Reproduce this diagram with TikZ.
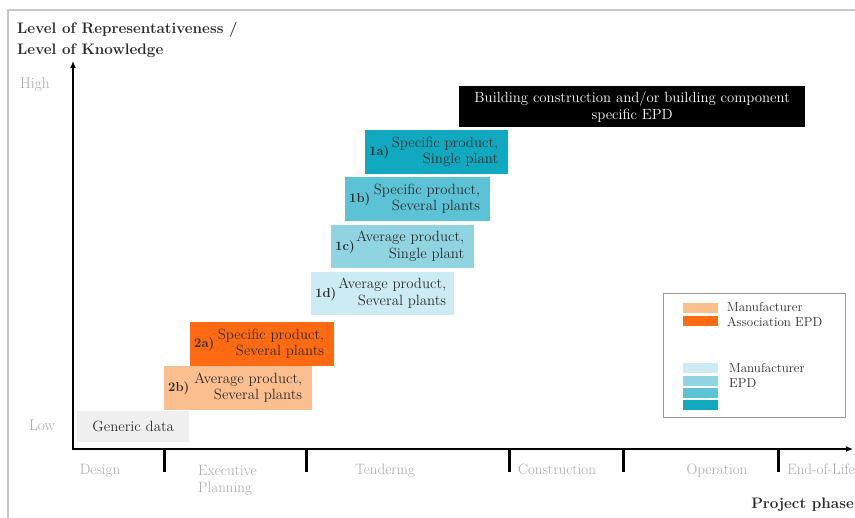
\documentclass[tikz,border=0pt]{standalone}
\usepackage{tikz}
\usetikzlibrary{arrows.meta,positioning}
\definecolor{Ink}{HTML}{2B2B2B}
\definecolor{Phase}{HTML}{A8A8A8}
\definecolor{Frame}{HTML}{C8C8C8}
\definecolor{TealA}{HTML}{10A9BF}
\definecolor{TealB}{HTML}{5CC3D6}
\definecolor{TealC}{HTML}{90D4E2}
\definecolor{TealD}{HTML}{CDEBF2}
\definecolor{OrangeA}{HTML}{FF6A12}
\definecolor{OrangeB}{HTML}{FBBE8E}
\definecolor{Paper}{HTML}{EFEFEF}
\newcommand{\boxfont}{\fontsize{14.8}{16.5}\selectfont}
\newcommand{\tagfont}{\fontsize{13}{16}\selectfont\bfseries}
\tikzset{
 epd/.style={anchor=north west,inner sep=0pt,text=Ink,font=\boxfont,align=left},
 phase/.style={text=Phase,font=\fontsize{15}{17}\selectfont,inner sep=0pt},
 level/.style={text=Phase,font=\fontsize{15.5}{17}\selectfont,inner sep=0pt},
 heading/.style={text=Ink,font=\fontsize{15.2}{21}\selectfont\bfseries,inner sep=0pt,align=left},
 axis/.style={{Latex[length=7pt,width=6pt]}-{Latex[length=7pt,width=6pt]},line width=2pt,draw=black},
 tick/.style={line width=3pt,draw=black},
 swatch/.style={minimum width=35pt,minimum height=10pt,inner sep=0pt,anchor=north west},
 legtext/.style={text=Ink,font=\fontsize{13}{15.5}\selectfont,inner sep=0pt,align=left,anchor=north west}
}

\begin{document}
\begin{tikzpicture}[x=1pt,y=-1pt]
\useasboundingbox (0,0) rectangle (855,518);
\draw[Frame,line width=1.5pt] (8,518) -- (8,10) -- (855,10);
% axes
\coordinate (origin) at (73,449);
\coordinate (ytip) at (73,61);
\coordinate (xtip) at (853,449);
\draw[axis] (ytip) -- (origin) -- (xtip);
\foreach \x in {164,306,509,623,778} \draw[tick] (\x,449) -- (\x,472);
\node[heading,anchor=north west] (ylab) at (17,21.5) {Level of Representativeness /\\Level of Knowledge};
\node[level] (high) at (35,85) {High};
\node[level] (low) at (42,425) {Low};
\node[heading,anchor=base east] (xlab) at (854,509) {Project phase};
% phases
\node[phase,anchor=base] (design) at (100,475) {Design};
\node[phase,anchor=north west,align=left] (exec) at (198,465) {Executive\\Planning};
\node[phase,anchor=base] (tender) at (385,475) {Tendering};
\node[phase,anchor=base] (constr) at (557,475) {Construction};
\node[phase,anchor=base] (oper) at (717,475) {Operation};
\node[phase,anchor=base east] (eol) at (855,475) {End-of-Life};
% data quality boxes
\node[epd,anchor=north west,fill=black,text=white,align=center,minimum width=346pt,minimum height=41pt] (building) at (459,86) {Building construction and/or building component\\specific EPD};
\node[epd,fill=TealA,minimum width=143pt,minimum height=44pt] (b1a) at (365,130) {\hbox to 135pt{{\tagfont 1a)}\hfil\begin{tabular}{@{}r@{}}Specific product,\\Single plant\end{tabular}\hspace*{6pt}}};
\node[epd,fill=TealB,minimum width=145pt,minimum height=44pt] (b1b) at (345,177) {\hbox to 137pt{{\tagfont 1b)}\hfil\begin{tabular}{@{}r@{}}Specific product,\\Several plants\end{tabular}\hspace*{6pt}}};
\node[epd,fill=TealC,minimum width=143pt,minimum height=43pt] (b1c) at (331,225) {\hbox to 135pt{{\tagfont 1c)}\hfil\begin{tabular}{@{}r@{}}Average product,\\Single plant\end{tabular}\hspace*{6pt}}};
\node[epd,fill=TealD,minimum width=143pt,minimum height=43pt] (b1d) at (311,272) {\hbox to 135pt{{\tagfont 1d)}\hfil\begin{tabular}{@{}r@{}}Average product,\\Several plants\end{tabular}\hspace*{4pt}}};
\node[epd,fill=OrangeA,minimum width=144pt,minimum height=44pt] (b2a) at (190,322) {\hbox to 136pt{{\tagfont 2a)}\hfil\begin{tabular}{@{}r@{}}Specific product,\\Several plants\end{tabular}\hspace*{6pt}}};
\node[epd,fill=OrangeB,minimum width=148pt,minimum height=44pt] (b2b) at (164,366) {\hbox to 140pt{{\tagfont 2b)}\hfil\begin{tabular}{@{}r@{}}Average product,\\Several plants\end{tabular}\hspace*{6pt}}};
\node[epd,fill=Paper,align=center,minimum width=112pt,minimum height=31pt] (generic) at (77,411) {Generic data};
% legend
\node[draw=gray!80,line width=0.8pt,minimum width=182pt,minimum height=124pt,anchor=north west,inner sep=0pt] (legend) at (663,293) {};
\node[swatch,fill=OrangeB] (o1) at (683,303) {};
\node[swatch,fill=OrangeA,below=2pt of o1] (o2) {};
\node[legtext] (assoc) at (727,302) {Manufacturer\\Association EPD};
\node[swatch,fill=TealD] (t1) at (683,363) {};
\node[swatch,fill=TealC,below=2pt of t1] (t2) {};
\node[swatch,fill=TealB,below=2pt of t2] (t3) {};
\node[swatch,fill=TealA,below=2pt of t3] (t4) {};
\node[legtext] (manu) at (729,363) {Manufacturer\\EPD};
\end{tikzpicture}
\end{document}
